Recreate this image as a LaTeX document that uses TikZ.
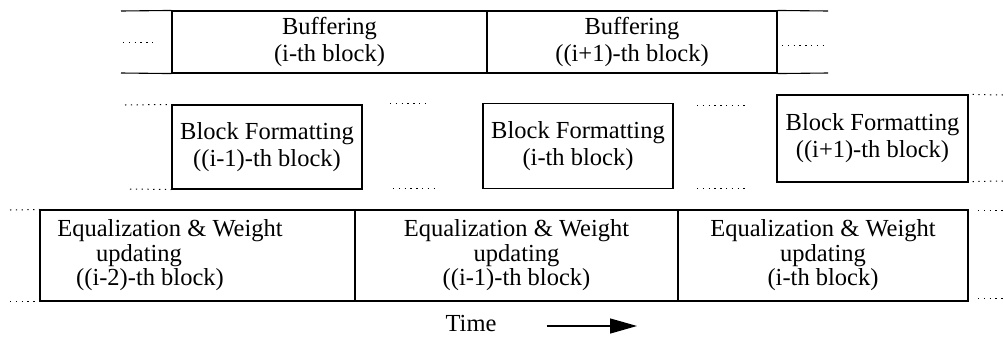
\documentclass[tikz,border=0pt]{standalone}
\usepackage{fontspec}
\setmainfont{Liberation Serif}
\usetikzlibrary{arrows.meta}
\begin{document}
\begin{tikzpicture}[x=1pt,y=-1pt,
  cell/.style={draw,line width=1.1pt,inner sep=0pt,align=center,
    font=\fontsize{24.5}{27}\selectfont},
  cell3/.style={cell,font=\fontsize{24.5}{24.5}\selectfont},
  dots/.style={line width=1pt,dash pattern=on 1.3pt off 4.5pt},
  bar/.style={line width=1.1pt}]
\useasboundingbox (0,0) rectangle (1003,338);
% Row 1: buffering
\node[cell,minimum width=315pt,minimum height=62pt] (b1) at (329.5,42) {Buffering\\(i-th block)};
\node[cell,minimum width=290pt,minimum height=62pt] (b2) at (632,42) {Buffering\\((i+1)-th block)};
\coordinate (b1tl) at (121,11);
\coordinate (b1bl) at (121,73);
\coordinate (b2tr) at (828,11);
\coordinate (b2br) at (828,73);
\draw[bar] (b1.north west) -- (b1tl);
\draw[bar] (b1.south west) -- (b1bl);
\draw[bar] (b2.north east) -- (b2tr);
\draw[bar] (b2.south east) -- (b2br);
\coordinate (d1a) at (123,42); \coordinate (d1b) at (153,42);
\draw[dots] (d1a) -- (d1b);
\coordinate (d2a) at (782,45); \coordinate (d2b) at (828,45);
\draw[dots] (d2a) -- (d2b);
% Row 2: block formatting
\node[cell,minimum width=190pt,minimum height=84pt] (f1) at (267,147) {Block Formatting\\((i-1)-th block)};
\node[cell,minimum width=190pt,minimum height=85pt] (f2) at (578,146) {Block Formatting\\(i-th block)};
\node[cell,minimum width=191pt,minimum height=87pt] (f3) at (872.5,138.5) {Block Formatting\\((i+1)-th block)};
\coordinate (e1) at (125,105); \draw[dots] (e1) -- (f1.north west);
\coordinate (e2) at (130,189); \draw[dots] (e2) -- (f1.south west);
\coordinate (e3a) at (390,103); \coordinate (e3b) at (428,103); \draw[dots] (e3a) -- (e3b);
\coordinate (e4a) at (393,188); \coordinate (e4b) at (438,188); \draw[dots] (e4a) -- (e4b);
\coordinate (e5a) at (697,105); \coordinate (e5b) at (747,105); \draw[dots] (e5a) -- (e5b);
\coordinate (e6a) at (697,188); \coordinate (e6b) at (747,188); \draw[dots] (e6a) -- (e6b);
\coordinate (e7) at (1003,95); \draw[dots] (f3.north east) ++(4,0) -- (e7);
\coordinate (e8) at (1003,181); \draw[dots] (f3.south east) ++(4,-1) -- (e8);
% Row 3: equalization
\node[cell3,minimum width=315pt,minimum height=91pt] (q1) at (197.5,255.5) {\hspace*{-55pt}Equalization \& Weight\\\hspace*{-117pt}updating\\\hspace*{-95pt}((i-2)-th block)};
\node[cell3,minimum width=323pt,minimum height=91pt] (q2) at (516.5,255.5) {Equalization \& Weight\\updating\\((i-1)-th block)};
\node[cell3,minimum width=290pt,minimum height=91pt] (q3) at (823,255.5) {Equalization \& Weight\\updating\\(i-th block)};
\coordinate (g1) at (10,210); \draw[dots] (g1) -- (q1.north west);
\coordinate (g2a) at (10,301); \coordinate (g2b) at (38,301); \draw[dots] (g2a) -- (g2b);
\coordinate (g3a) at (978,210); \coordinate (g3b) at (1003,210); \draw[dots] (g3a) -- (g3b);
\coordinate (g4a) at (978,298); \coordinate (g4b) at (1003,298); \draw[dots] (g4a) -- (g4b);
% Time arrow
\node[font=\fontsize{24.5}{27}\selectfont,inner sep=0pt] (time) at (471,324) {Time};
\coordinate (tend) at (637,326);
\draw[line width=1.3pt,-{Triangle[length=27pt,width=15pt]}] (time.east) ++(50,2) -- (tend);
\end{tikzpicture}
\end{document}
